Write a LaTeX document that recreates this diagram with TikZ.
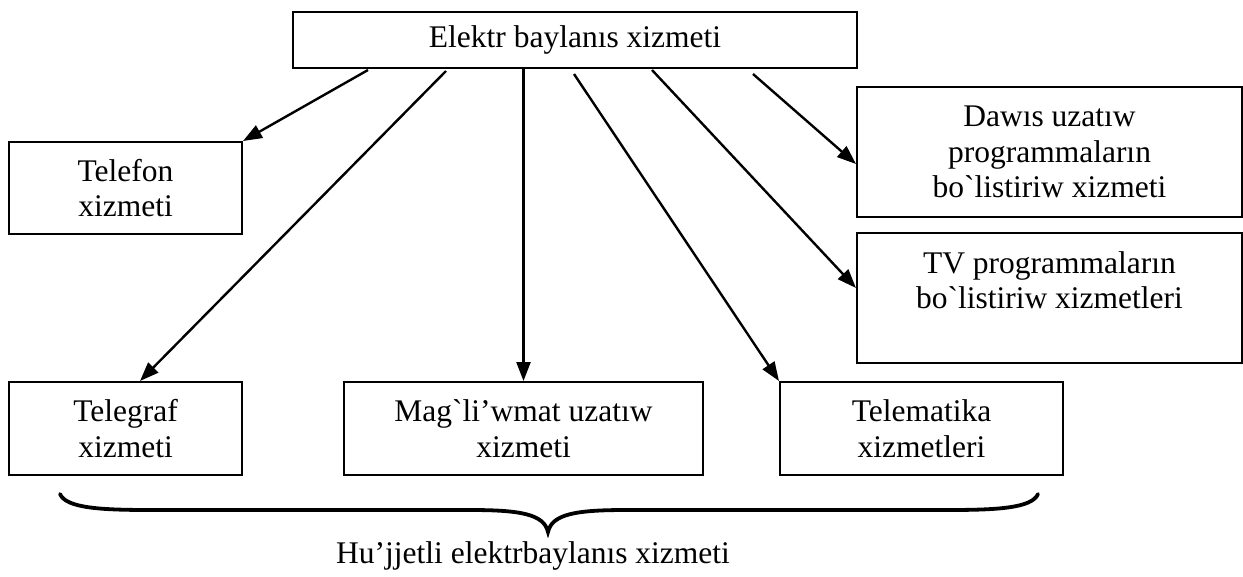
\documentclass[tikz,border=0pt]{standalone}
\usepackage{fontspec}
\setmainfont{Liberation Serif}
\usetikzlibrary{arrows.meta,calc}
\begin{document}
\begin{tikzpicture}[x=1pt,y=-1pt,
  txt/.style={font=\fontsize{31.5}{35.5}\selectfont},
  box/.style={txt,draw=black,line width=2pt,rectangle,inner sep=0pt,align=center},
  arr/.style={line width=2.4pt,-{Triangle[length=19pt,width=14pt]}},
  brace/.style={line width=3.8pt,line cap=round}]
\useasboundingbox (0,0) rectangle (1243,576);
\node[box,minimum width=564pt,minimum height=56pt] (top) at (575,40) {Elektr baylanıs xizmeti};
\node[box,minimum width=233pt,minimum height=92pt] (tel) at (125.5,188) {Telefon\\xizmeti};
\node[box,minimum width=385pt,minimum height=130pt] (daw) at (1049.5,152) {Dawıs uzatıw\\programmaların\\bo\textasciigrave listiriw xizmeti};
\node[box,minimum width=385pt,minimum height=130pt] (tv) at (1049.5,298) {TV programmaların\\bo\textasciigrave listiriw xizmetleri\\\mbox{}};
\node[box,minimum width=233pt,minimum height=93pt] (tg) at (125.5,428.5) {Telegraf\\xizmeti};
\node[box,minimum width=359pt,minimum height=93pt] (mag) at (523.5,428.5) {Mag\textasciigrave li’wmat uzatıw\\xizmeti};
\node[box,minimum width=283pt,minimum height=93pt] (tm) at (921.5,428.5) {Telematika\\xizmetleri};
\node[txt] (hu) at (533,556) {Hu’jjetli elektrbaylanıs xizmeti};
\draw[arr] ($(top.south west)+(76,1)$) -- (tel.north east);
\draw[arr] ($(top.south west)+(154,2)$) -- ($(tg.north)+(14.5,0)$);
\draw[arr] (top.south -| mag.north) -- (mag.north);
\draw[arr] ($(top.south west)+(282,5)$) -- (tm.north west);
\draw[arr] ($(top.south west)+(360,1)$) -- ($(tv.west)+(0,-10)$);
\draw[arr] ($(top.south west)+(461,5)$) -- ($(daw.west)+(0,12)$);
\draw[brace] (60,494) .. controls (66,508) and (100,510) .. (150,510) -- (470,510)
  .. controls (520,510) and (544,514) .. (548,532)
  .. controls (552,514) and (576,510) .. (626,510) -- (948,510)
  .. controls (998,510) and (1032,508) .. (1038,494);
\end{tikzpicture}
\end{document}
